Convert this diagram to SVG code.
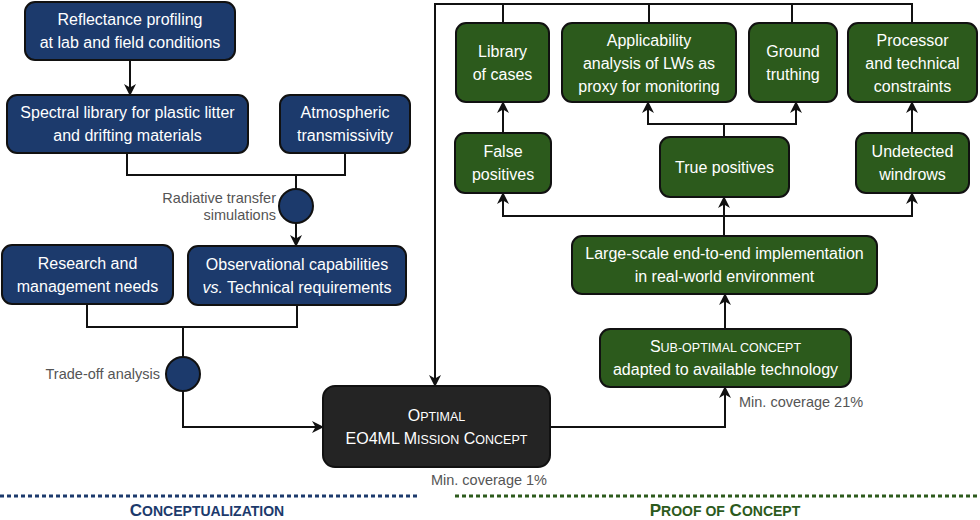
<svg xmlns="http://www.w3.org/2000/svg" width="980" height="520" viewBox="0 0 980 520">
<defs>
<marker id="arr" viewBox="0 0 12 12" refX="11" refY="6" markerWidth="12" markerHeight="12" markerUnits="userSpaceOnUse" orient="auto">
<path d="M0,0 L12,6 L0,12 L3.5,6 z" fill="#111"/>
</marker>
<style>
.box{stroke:#111;stroke-width:2}
.blue{fill:#1c3a6c}
.green{fill:#2c5a1c}
.dark{fill:#242424}
.t{font-family:"Liberation Sans",Arial,sans-serif;font-size:16px;fill:#fff;text-anchor:middle}
.s{font-size:12.5px}
.lbl{font-family:"Liberation Sans",Arial,sans-serif;font-size:14.5px;fill:#555}
.e{fill:none;stroke:#111;stroke-width:2}
.ea{fill:none;stroke:#111;stroke-width:2;marker-end:url(#arr)}
.sec{font-family:"Liberation Sans",Arial,sans-serif;font-size:17px;font-weight:bold;text-anchor:middle}
.ss{font-size:14px}
</style>
</defs>
<rect width="980" height="520" fill="#fff"/>

<g id="connectors">
<path class="ea" d="M130,60 V95"/>
<path class="e" d="M127,153 V175 H345 V153"/>
<path class="e" d="M296,175 V189"/>
<path class="ea" d="M296,223 V246"/>
<path class="e" d="M87,304 V327 H297 V305"/>
<path class="e" d="M183,327 V357"/>
<path class="ea" d="M183,391 V427 H323"/>
<path class="ea" d="M912,23 V4 H435 V386"/>
<path class="e" d="M503,4 V23"/>
<path class="e" d="M649,4 V23"/>
<path class="e" d="M792,4 V23"/>
<path class="ea" d="M503,133 V102"/>
<path class="e" d="M724,137 V124"/>
<path class="ea" d="M724,124 H648 V102"/>
<path class="ea" d="M724,124 H796 V102"/>
<path class="ea" d="M912,133 V102"/>
<path class="ea" d="M724,236 V216 H503 V193"/>
<path class="ea" d="M724,216 H912 V193"/>
<path class="ea" d="M724,216 V197"/>
<path class="ea" d="M725,329 V294"/>
<path class="ea" d="M550,427 H725 V387"/>
</g>

<g id="reflectance"><rect class="box blue" x="25" y="2" width="210" height="58" rx="10"/>
<text class="t" x="130" y="25">Reflectance profiling</text><text class="t" x="130" y="48">at lab and field conditions</text></g>
<g id="spectral"><rect class="box blue" x="7" y="95" width="241" height="58" rx="10"/>
<text class="t" x="127.5" y="118">Spectral library for plastic litter</text><text class="t" x="127.5" y="141">and drifting materials</text></g>
<g id="atmospheric"><rect class="box blue" x="280" y="95" width="130" height="58" rx="10"/>
<text class="t" x="345" y="118">Atmospheric</text><text class="t" x="345" y="141">transmissivity</text></g>
<g id="rts"><circle class="box blue" cx="296" cy="206" r="17"/>
<text class="lbl" x="276" y="203" text-anchor="end">Radiative transfer</text><text class="lbl" x="276" y="220" text-anchor="end">simulations</text></g>
<g id="research"><rect class="box blue" x="2" y="245" width="171" height="59" rx="10"/>
<text class="t" x="87.5" y="268.5">Research and</text><text class="t" x="87.5" y="291.5">management needs</text></g>
<g id="observational"><rect class="box blue" x="188" y="246" width="218" height="59" rx="10"/>
<text class="t" x="297" y="269.5">Observational capabilities</text><text class="t" x="297" y="292.5"><tspan font-style="italic">vs.</tspan> Technical requirements</text></g>
<g id="tradeoff"><circle class="box blue" cx="183" cy="374" r="17"/>
<text class="lbl" x="160" y="379" text-anchor="end">Trade-off analysis</text></g>
<g id="optimal"><rect class="box dark" x="323" y="386" width="227" height="81" rx="12"/>
<text class="t" x="436.5" y="421">O<tspan class="s">PTIMAL</tspan></text><text class="t" x="436.5" y="444">EO4ML M<tspan class="s">ISSION</tspan> C<tspan class="s">ONCEPT</tspan></text>
<text class="lbl" x="547" y="485" text-anchor="end">Min. coverage 1%</text></g>

<g id="library"><rect class="box green" x="456" y="23" width="93" height="79" rx="10"/>
<text class="t" x="502.5" y="57">Library</text><text class="t" x="502.5" y="80">of cases</text></g>
<g id="applicability"><rect class="box green" x="562" y="23" width="174" height="79" rx="10"/>
<text class="t" x="649" y="46">Applicability</text><text class="t" x="649" y="69">analysis of LWs as</text><text class="t" x="649" y="92">proxy for monitoring</text></g>
<g id="ground"><rect class="box green" x="749" y="23" width="88" height="79" rx="10"/>
<text class="t" x="793" y="57">Ground</text><text class="t" x="793" y="80">truthing</text></g>
<g id="processor"><rect class="box green" x="848" y="23" width="129" height="79" rx="10"/>
<text class="t" x="912.5" y="46">Processor</text><text class="t" x="912.5" y="69">and technical</text><text class="t" x="912.5" y="92">constraints</text></g>
<g id="false"><rect class="box green" x="455" y="133" width="96" height="60" rx="10"/>
<text class="t" x="503" y="157">False</text><text class="t" x="503" y="180">positives</text></g>
<g id="true"><rect class="box green" x="660" y="137" width="129" height="60" rx="10"/>
<text class="t" x="724.5" y="173">True positives</text></g>
<g id="undetected"><rect class="box green" x="856" y="133" width="113" height="60" rx="10"/>
<text class="t" x="912.5" y="157">Undetected</text><text class="t" x="912.5" y="180">windrows</text></g>
<g id="largescale"><rect class="box green" x="572" y="236" width="305" height="58" rx="10"/>
<text class="t" x="724.5" y="259">Large-scale end-to-end implementation</text><text class="t" x="724.5" y="282">in real-world environment</text></g>
<g id="suboptimal"><rect class="box green" x="600" y="329" width="251" height="58" rx="10"/>
<text class="t" x="725.5" y="352">S<tspan class="s">UB-OPTIMAL CONCEPT</tspan></text><text class="t" x="725.5" y="375">adapted to available technology</text>
<text class="lbl" x="739" y="407">Min. coverage 21%</text></g>

<g id="sections">
<path d="M0,496 H417" stroke="#1c3a6c" stroke-width="3" stroke-dasharray="4 3" fill="none"/>
<path d="M455,496 H980" stroke="#2c5a1c" stroke-width="3" stroke-dasharray="4 3" fill="none"/>
<text class="sec" x="207" y="516" fill="#1c3a6c">C<tspan class="ss">ONCEPTUALIZATION</tspan></text>
<text class="sec" x="725" y="516" fill="#2c5a1c">P<tspan class="ss">ROOF OF</tspan> C<tspan class="ss">ONCEPT</tspan></text>
</g>
</svg>
